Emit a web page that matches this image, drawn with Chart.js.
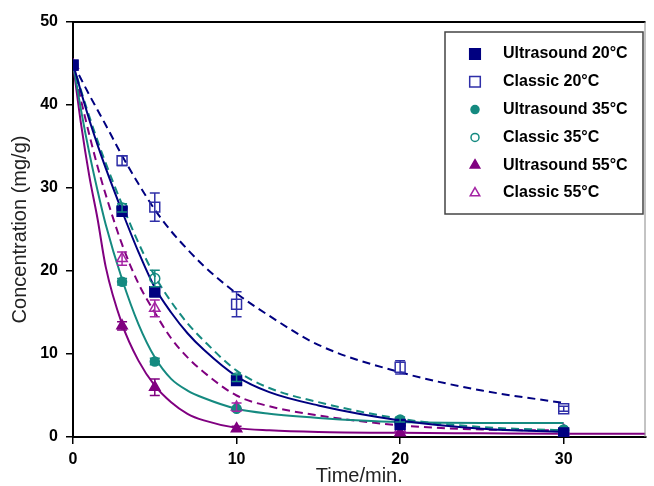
<!DOCTYPE html>
<html>
<head>
<meta charset="utf-8">
<script src="https://cdn.jsdelivr.net/npm/chart.js@4.4.1/dist/chart.umd.min.js"></script>
<style>
  html, body { margin: 0; padding: 0; background: #fff; }
  #wrap { width: 654px; height: 486px; }
</style>
</head>
<body>
<div id="wrap"><canvas id="extractionChart" width="654" height="486"></canvas></div>
<script>
// measured points (time in min, concentration in mg/g)
const times = [0, 3, 5, 10, 20, 30];
const ultrasound20 = [44.8, 27.2, 17.5, 6.8, 1.5, 0.5];
const classic20    = [44.8, 33.3, 27.7, 16.0, 8.4, 3.4];
const ultrasound35 = [44.8, 18.7, 9.1, 3.4, 2.1, 0.9];
const classic35    = [44.8, 27.6, 19.1, 7.1, 1.6, 0.8];
const ultrasound55 = [44.8, 13.4, 6.0, 1.0, 0.5, 0.4];
const classic55    = [44.8, 21.5, 15.5, 3.6, 1.0, 0.8];

// error bar half-heights
const ultrasound20Err = [0, 0.4, 0.6, 0.4, 0, 0];
const classic20Err    = [0, 0.6, 1.7, 1.5, 0.8, 0.3];
const ultrasound35Err = [0, 0.4, 0.4, 0, 0.3, 0];
const classic35Err    = [0, 0.5, 1.0, 0.4, 0, 0];
const ultrasound55Err = [0, 0.5, 1.0, 0.3, 0, 0];
const classic55Err    = [0, 0.8, 1.0, 0.5, 0, 0];

// fitted curves
const fitTimes = [0, 0.5, 1, 1.5, 2, 3, 4, 5, 6, 7, 8, 10, 12, 15, 20, 25, 30, 35];
const ultrasound20Fit = [45, 41.5, 38.2, 35.2, 32.4, 27.2, 22.3, 18.0, 15.0, 12.5, 10.5, 7.3, 5.4, 3.8, 2.0, 1.0, 0.6, null];
const classic20Fit    = [45, 43.1, 41.2, 39.4, 37.6, 33.9, 30.5, 27.4, 24.8, 22.6, 20.6, 17.3, 14.6, 11.1, 7.8, 5.6, 4.1, null];
const ultrasound35Fit = [45, 39.3, 34.2, 29.7, 25.6, 19.0, 13.6, 9.6, 7.0, 5.6, 4.7, 3.4, 2.8, 2.3, 1.8, 1.7, 1.7, null];
const classic35Fit    = [45, 41.7, 38.6, 35.7, 33.0, 28.0, 23.4, 19.4, 16.3, 13.7, 11.6, 8.0, 5.9, 4.2, 2.2, 1.2, 0.8, null];
const ultrasound55Fit = [45, 37.6, 31.4, 26.3, 20.5, 13.6, 9.2, 6.2, 4.2, 2.8, 2.0, 1.1, 0.8, 0.6, 0.5, 0.45, 0.4, 0.4];
const classic55Fit    = [45, 40.5, 36.4, 32.6, 29.2, 23.2, 18.5, 15.0, 11.9, 9.6, 7.8, 5.0, 3.7, 2.6, 1.4, 0.9, 0.8, null];

const navy = '#000080';
const blue = '#2f2fa8';
const teal = '#158a80';
const purple = '#800080';
const magenta = '#a424a4';
const fontFamily = '"Liberation Sans", Arial, sans-serif';

function markers(label, values, errors, color, style, radius, filled) {
    return {
        label: label,
        inLegend: true,
        errors: errors,
        data: times.map((t, i) => ({ x: t, y: values[i] })),
        showLine: false,
        pointStyle: style,
        pointRadius: radius,
        pointHoverRadius: radius,
        pointBorderColor: color,
        pointBackgroundColor: filled ? color : 'rgba(0,0,0,0)',
        pointBorderWidth: 1.5,
        borderColor: color,
        backgroundColor: filled ? color : 'rgba(0,0,0,0)',
        order: 0
    };
}

function curve(values, color, dashed) {
    return {
        label: '',
        data: fitTimes.map((t, i) => ({ x: t, y: values[i] })),
        borderColor: color,
        borderWidth: 2,
        borderDash: dashed ? [8, 5] : [],
        pointRadius: 0,
        fill: false,
        cubicInterpolationMode: 'monotone',
        order: 1
    };
}

// legend marker sizes by point style
const legendRadius = { rect: 7.5, circle: 4, triangle: 5.5 };

// error bars, plot frame and boxed legend
const decorations = {
    id: 'decorations',
    afterDatasetsDraw(chart) {
        const ctx = chart.ctx;
        const xs = chart.scales.x, ys = chart.scales.y;
        ctx.save();
        chart.data.datasets.forEach(ds => {
            if (!ds.errors) return;
            ctx.strokeStyle = ds.borderColor;
            ctx.lineWidth = 1.5;
            ds.data.forEach((p, i) => {
                const e = ds.errors[i];
                if (!e) return;
                const x = xs.getPixelForValue(p.x);
                const top = ys.getPixelForValue(p.y + e);
                const bot = ys.getPixelForValue(p.y - e);
                ctx.beginPath();
                ctx.moveTo(x, top); ctx.lineTo(x, bot);
                ctx.moveTo(x - 5, top); ctx.lineTo(x + 5, top);
                ctx.moveTo(x - 5, bot); ctx.lineTo(x + 5, bot);
                ctx.stroke();
            });
        });
        ctx.restore();
    },
    afterDraw(chart) {
        const ctx = chart.ctx;
        const a = chart.chartArea;
        ctx.save();
        // frame top and right
        ctx.strokeStyle = '#000';
        ctx.lineWidth = 2;
        ctx.beginPath();
        ctx.moveTo(a.left, a.top); ctx.lineTo(a.right, a.top);
        ctx.stroke();
        ctx.strokeStyle = '#888';
        ctx.lineWidth = 1;
        ctx.beginPath();
        ctx.moveTo(a.right - 0.5, a.top); ctx.lineTo(a.right - 0.5, a.bottom);
        ctx.stroke();

        // legend box
        ctx.fillStyle = '#fff';
        ctx.fillRect(445, 32, 198, 182);
        ctx.strokeStyle = '#444';
        ctx.lineWidth = 1.5;
        ctx.strokeRect(445, 32, 198, 182);
        ctx.font = 'bold 16px ' + fontFamily;
        ctx.textBaseline = 'middle';
        let row = 0;
        chart.data.datasets.forEach(ds => {
            if (!ds.inLegend) return;
            const y = 54 + row * 27.8;
            ctx.fillStyle = ds.pointBackgroundColor;
            ctx.strokeStyle = ds.pointBorderColor;
            ctx.lineWidth = ds.pointBorderWidth;
            Chart.helpers.drawPoint(ctx, {
                pointStyle: ds.pointStyle,
                radius: legendRadius[ds.pointStyle],
                rotation: 0,
                borderWidth: ds.pointBorderWidth
            }, 475, y);
            ctx.fillStyle = '#000';
            ctx.fillText(ds.label, 503, y);
            row++;
        });
        ctx.restore();
    }
};

const ctx = document.getElementById('extractionChart').getContext('2d');
const extractionChart = new Chart(ctx, {
    type: 'line',
    data: {
        datasets: [
            markers('Ultrasound 20°C', ultrasound20, ultrasound20Err, navy, 'rect', 7, true),
            markers('Classic 20°C', classic20, classic20Err, blue, 'rect', 7, false),
            markers('Ultrasound 35°C', ultrasound35, ultrasound35Err, teal, 'circle', 4.5, true),
            markers('Classic 35°C', classic35, classic35Err, teal, 'circle', 5, false),
            markers('Ultrasound 55°C', ultrasound55, ultrasound55Err, purple, 'triangle', 6, true),
            markers('Classic 55°C', classic55, classic55Err, magenta, 'triangle', 6, false),
            curve(ultrasound20Fit, navy, false),
            curve(classic20Fit, navy, true),
            curve(ultrasound35Fit, teal, false),
            curve(classic35Fit, teal, true),
            curve(ultrasound55Fit, purple, false),
            curve(classic55Fit, purple, true)
        ]
    },
    options: {
        responsive: false,
        animation: false,
        layout: { padding: { top: 22, right: 1, left: 0, bottom: 0 } },
        plugins: {
            legend: { display: false },
            tooltip: { enabled: false }
        },
        scales: {
            x: {
                type: 'linear',
                min: 0,
                max: 35,
                ticks: { stepSize: 10, color: '#000', padding: 6, font: { family: fontFamily, size: 16, weight: 'bold' } },
                afterBuildTicks: s => { s.ticks = s.ticks.filter(t => t.value % 10 === 0); },
                afterFit: s => { s.height = 49; },
                grid: { drawOnChartArea: false, tickLength: 7, color: '#000', lineWidth: 1.5 },
                border: { color: '#000', width: 2 },
                title: { display: true, text: 'Time/min.', color: '#222', padding: { top: 0, bottom: 0 }, font: { family: fontFamily, size: 20, lineHeight: 1 } }
            },
            y: {
                min: 0,
                max: 50,
                ticks: { stepSize: 10, color: '#000', padding: 8, font: { family: fontFamily, size: 16, weight: 'bold' } },
                afterFit: s => { s.width = 73; },
                grid: { drawOnChartArea: false, tickLength: 7, color: '#000', lineWidth: 1.5 },
                border: { color: '#000', width: 2 },
                title: { display: true, text: 'Concentration (mg/g)', color: '#222', padding: { top: 10, bottom: 0 }, font: { family: fontFamily, size: 20, lineHeight: 1 } }
            }
        }
    },
    plugins: [decorations]
});
</script>
</body>
</html>
